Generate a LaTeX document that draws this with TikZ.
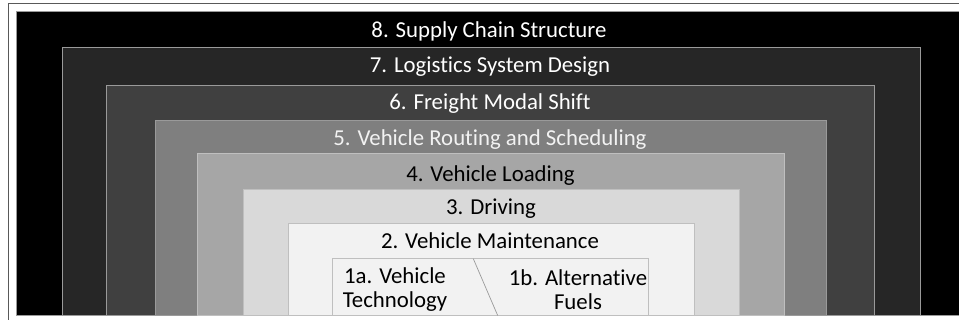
\documentclass[tikz,border=0pt]{standalone}
\usepackage{fontspec}
\setmainfont[Ligatures={NoCommon}]{Carlito}
\definecolor{c8}{HTML}{000000}
\definecolor{c7}{HTML}{262626}
\definecolor{c6}{HTML}{404040}
\definecolor{c5}{HTML}{7F7F7F}
\definecolor{c4}{HTML}{A6A6A6}
\definecolor{c3}{HTML}{D9D9D9}
\definecolor{c2}{HTML}{F2F2F2}
\definecolor{edgeA}{HTML}{9A9A9A}
\definecolor{edgeB}{HTML}{BFBFBF}
\definecolor{framec}{HTML}{595959}
\begin{document}
\begin{tikzpicture}[x=1pt,y=-1pt,
  layer/.style={draw=edgeA, line width=0.9pt},
  layerin/.style={draw=edgeB, line width=0.9pt},
  lbl/.style={font=\fontsize{22.8}{24}\selectfont, inner sep=0pt, anchor=base},
  lbltwo/.style={font=\fontsize{22.8}{24.5}\selectfont, inner sep=0pt, align=center, text=black}]
\useasboundingbox (0,0) rectangle (959,320);
\clip (0,0) rectangle (959,320);
\fill[white] (0,0) rectangle (959,320);
\draw[framec, line width=1.3pt] (8.5,340) -- (8.5,3.5) -- (980,3.5);
% layers
\filldraw[layer, fill=c8] (16.3,11.5) rectangle (975,315.5);
\filldraw[layer, fill=c7] (62,47.7) rectangle (920,315.5);
\filldraw[layer, fill=c6] (106.7,85.3) rectangle (874.7,315.5);
\filldraw[layer, fill=c5] (155.3,120.3) rectangle (826.7,315.5);
\filldraw[layerin, fill=c4] (197,153.7) rectangle (784.3,315.5);
\filldraw[layerin, fill=c3] (243,189.3) rectangle (739,315.5);
\filldraw[layerin, fill=c2] (288.3,223.7) rectangle (694,315.5);
\filldraw[layerin, fill=c2] (332.3,258.7) rectangle (648.3,315.5);
\coordinate (dtop) at (473.3,258.7);
\coordinate (dbot) at (497.7,315.5);
\draw[edgeA, line width=0.7pt] (dtop) -- (dbot);
% labels
\node[lbl, text=white] (l8) at (489,37.3) {8. Supply Chain Structure};
\node[lbl, text=white] (l7) at (490,72.7) {7. Logistics System Design};
\node[lbl, text=white] (l6) at (490,110) {6. Freight Modal Shift};
\node[lbl, text=c2] (l5) at (490,145.7) {5. Vehicle Routing and Scheduling};
\node[lbl, text=black] (l4) at (490.5,181.7) {4. Vehicle Loading};
\node[lbl, text=black] (l3) at (491,215) {3. Driving};
\node[lbl, text=black] (l2) at (490,248.3) {2. Vehicle Maintenance};
\node[lbltwo] (l1a) at (395,289.5) {1a. Vehicle\\Technology};
\node[lbltwo] (l1b) at (578,289.5) {1b. Alternative\\Fuels};
\end{tikzpicture}
\end{document}
